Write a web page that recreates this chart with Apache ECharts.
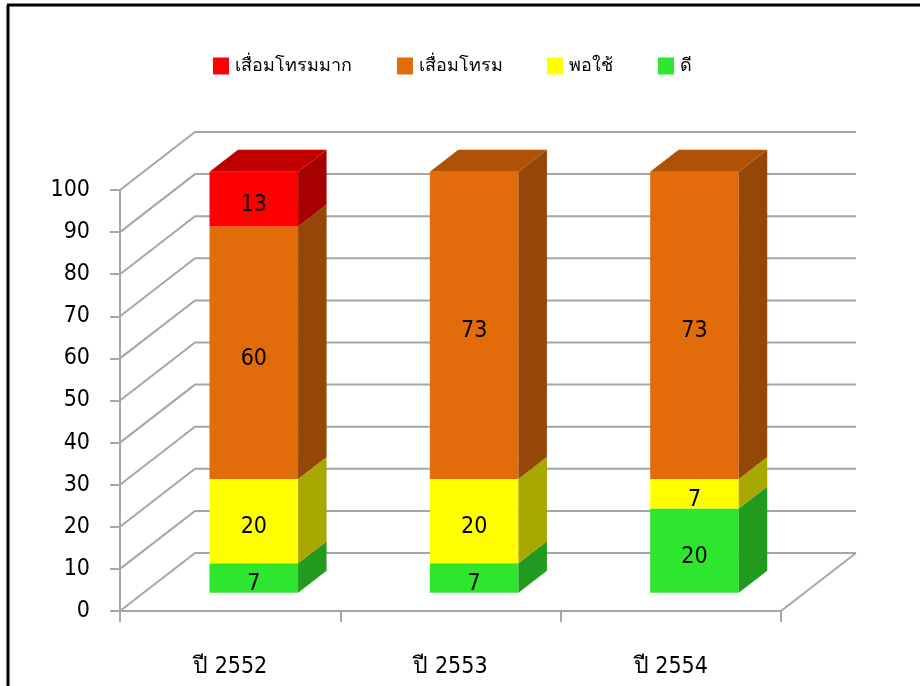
<!DOCTYPE html>
<html>
<head>
<meta charset="utf-8">
<script src="https://cdn.jsdelivr.net/npm/echarts@6/dist/echarts.min.js"></script>
<style>
  html, body { margin: 0; padding: 0; background: #fff; }
  #chart { width: 920px; height: 686px; }
</style>
</head>
<body>
<div id="chart"></div>
<script>
// ---- data ----
const categories = ['ปี 2552', 'ปี 2553', 'ปี 2554'];
const seriesNames = ['ดี', 'พอใช้', 'เสื่อมโทรม', 'เสื่อมโทรมมาก']; // stack order bottom -> top
const valuesDee = [7, 7, 20];
const valuesPorchai = [20, 20, 7];
const valuesSuem = [60, 73, 73];
const valuesSuemMak = [13, 0, 0];
const legendOrder = ['เสื่อมโทรมมาก', 'เสื่อมโทรม', 'พอใช้', 'ดี'];
const yMin = 0, yMax = 100, yInterval = 10;

// ---- styles ----
const FONT = '"DejaVu Sans Condensed", "DejaVu Sans", sans-serif';
const FS = 23;
const LEG_FS = 18;
const DX = 75, DY = -58;          // depth of the 3D box
const D0 = 0.315, DW = 0.38;      // bar depth position / thickness (fractions)
const GRID_COLOR = '#a6a6a6';
const colors = {
  'ดี':            { front: '#2ee62e', side: '#229a1f', top: '#26bf26' },
  'พอใช้':         { front: '#ffff00', side: '#a8a800', top: '#cccc00' },
  'เสื่อมโทรม':    { front: '#e36c0a', side: '#944707', top: '#b05206' },
  'เสื่อมโทรมมาก': { front: '#ff0000', side: '#a80000', top: '#c00000' }
};
const seriesValues = [valuesDee, valuesPorchai, valuesSuem, valuesSuemMak];

// stacked extents
const stackData = seriesValues.map(() => []);
categories.forEach((c, i) => {
  let base = 0;
  let topIdx = -1;
  seriesValues.forEach((vals, s) => { if (vals[i] > 0) topIdx = s; });
  seriesValues.forEach((vals, s) => {
    stackData[s].push([i, base, base + vals[i], vals[i], s === topIdx ? 1 : 0]);
    base += vals[i];
  });
});

const wallData = [];
for (let v = yMin; v <= yMax; v += yInterval) wallData.push([0, v]);

function renderBar(name) {
  const col = colors[name];
  return function (params, api) {
    const i = api.value(0), b = api.value(1), t = api.value(2), val = api.value(3), isTop = api.value(4);
    if (!(val > 0)) return null;
    const pb = api.coord([i, b]);
    const pt = api.coord([i, t]);
    const w = api.size([1, 0])[0] * 0.402;
    const x0 = pb[0] - w / 2 + D0 * DX;
    const x1 = x0 + w;
    const yb = pb[1] + D0 * DY;
    const yt = pt[1] + D0 * DY;
    const sx = DW * DX, sy = DW * DY;
    const children = [
      { type: 'polygon', shape: { points: [[x0, yb], [x1, yb], [x1, yt], [x0, yt]] }, style: { fill: col.front } },
      { type: 'polygon', shape: { points: [[x1, yb], [x1 + sx, yb + sy], [x1 + sx, yt + sy], [x1, yt]] }, style: { fill: col.side } }
    ];
    if (isTop) {
      children.push({ type: 'polygon', shape: { points: [[x0, yt], [x0 + sx, yt + sy], [x1 + sx, yt + sy], [x1, yt]] }, style: { fill: col.top } });
    }
    children.push({
      type: 'text',
      style: { text: String(val), x: (x0 + x1) / 2, y: (yb + yt) / 2 + 6, align: 'center', verticalAlign: 'middle', fill: '#000', font: FS + 'px ' + FONT }
    });
    return { type: 'group', children: children };
  };
}

const series = [
  {
    type: 'custom', name: '__walls', z: 1, silent: true,
    data: wallData, encode: { x: 0, y: 1 },
    renderItem: function (params, api) {
      const v = api.value(1);
      const p = api.coord([0, v]);
      const left = params.coordSys.x;
      const right = params.coordSys.x + params.coordSys.width;
      const y = p[1];
      const children = [{
        type: 'polyline',
        shape: { points: [[left, y], [left + DX, y + DY], [right + DX, y + DY]] },
        style: { stroke: GRID_COLOR, lineWidth: 2, fill: null }
      }];
      if (v === yMin) {
        children.push({
          type: 'line', shape: { x1: right, y1: y, x2: right + DX, y2: y + DY },
          style: { stroke: GRID_COLOR, lineWidth: 2 }
        });
      }
      return { type: 'group', children: children };
    }
  }
];
seriesNames.forEach((name, s) => {
  series.push({
    type: 'custom', name: name, z: 3,
    itemStyle: { color: colors[name].front },
    data: stackData[s], encode: { x: 0, y: [1, 2] },
    renderItem: renderBar(name)
  });
});

const legendLefts = [213, 397, 547, 658];
const legends = legendOrder.map((n, k) => ({
  data: [n], left: legendLefts[k], top: 57, padding: 0, icon: 'rect',
  itemWidth: 16, itemHeight: 17, itemGap: 6, selectedMode: false,
  textStyle: { fontSize: LEG_FS, fontFamily: FONT, color: '#000', padding: [0, 0, 0, 1] }
}));

const chart = echarts.init(document.getElementById('chart'), null, { renderer: 'canvas' });
chart.setOption({
  animation: false,
  backgroundColor: '#fff',
  textStyle: { fontFamily: FONT },
  legend: legends,
  grid: { left: 120, top: 190, width: 661, height: 421, containLabel: false },
  xAxis: {
    type: 'category', data: categories,
    axisLine: { lineStyle: { color: GRID_COLOR, width: 2 } },
    axisTick: { show: true, length: 11, lineStyle: { color: GRID_COLOR, width: 2 } },
    axisLabel: { fontSize: FS, fontFamily: FONT, color: '#000', margin: 45 },
    splitLine: { show: false }
  },
  yAxis: {
    type: 'value', min: yMin, max: yMax, interval: yInterval,
    axisLine: { show: true, lineStyle: { color: GRID_COLOR, width: 2 } },
    axisTick: { show: true, length: 10, lineStyle: { color: GRID_COLOR, width: 2 } },
    axisLabel: { fontSize: FS, fontFamily: FONT, color: '#000', margin: 30 },
    splitLine: { show: false }
  },
  graphic: [
    { type: 'line', shape: { x1: 8, y1: 5, x2: 8, y2: 686 }, style: { stroke: '#000', lineWidth: 3 } },
    { type: 'line', shape: { x1: 7, y1: 5, x2: 920, y2: 5 }, style: { stroke: '#000', lineWidth: 3 } }
  ],
  series: series
});
</script>
</body>
</html>
